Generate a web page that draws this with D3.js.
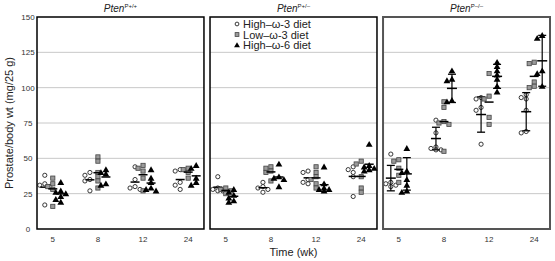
<!DOCTYPE html>
<html>
<head>
<meta charset="utf-8">
<script src="https://cdn.jsdelivr.net/npm/d3@7"></script>
<style>
  body { margin: 0; background: #fff; }
  text { font-family: "Liberation Sans", Arial, sans-serif; }
</style>
</head>
<body>
<div id="chart"></div>
<script>
const weeks = ["5", "8", "12", "24"];
const diets = ["High\u2013\u03c9-3 diet", "Low\u2013\u03c9-3 diet", "High\u2013\u03c9-6 diet"];
const genotypes = ["P+/+", "P+/\u2013", "P\u2013/\u2013"];
const yTicks = [0, 25, 50, 75, 100, 125, 150];

// Pten P+/+ , values per week
const wtHighW3 = [[38, 32, 31, 30, 17], [40, 38, 35, 34, 27], [44, 35, 30, 29, 28], [42, 41, 33, 31, 28]];
const wtLowW3 = [[36, 32, 30, 28, 16], [51, 48, 40, 37, 34, 29], [45, 43, 41, 36, 27], [43, 42, 40, 36]];
const wtHighW6 = [[33, 27, 26, 25, 23, 21, 19], [42, 40, 39, 32, 31], [42, 36, 33, 29, 28, 27], [45, 43, 36, 33, 31]];

// Pten P+/-
const hetHighW3 = [[37, 29, 28, 27, 27], [33, 30, 29, 28, 26], [41, 40, 35, 33, 32], [44, 42, 40, 37, 23]];
const hetLowW3 = [[29, 28, 27, 25], [44, 43, 41, 40, 34], [44, 40, 37, 35, 32, 29], [48, 46, 37, 29, 26]];
const hetHighW6 = [[28, 26, 24, 22, 20, 19], [46, 37, 36, 35, 30], [44, 32, 29, 28, 28, 27], [60, 45, 44, 43, 42, 41]];

// Pten P-/-
const nullHighW3 = [[53, 33, 32, 31, 30], [77, 68, 58, 57, 56, 56], [93, 92, 86, 84, 60], [95, 93, 92, 84, 69, 68]];
const nullLowW3 = [[49, 48, 43, 38, 33], [90, 86, 76, 75, 74, 55], [110, 94, 92, 79, 74], [118, 117, 104, 101, 100]];
const nullHighW6 = [[57, 41, 40, 35, 31, 27, 26], [112, 106, 105, 91, 90], [118, 115, 112, 109, 106, 101, 97], [137, 135, 112, 110, 101]];
// mean and SD
const nullMeanW3 = [36, 64, 81, 83];
const nullSdW3 = [9, 8, 12.5, 13.5];
const nullMeanW6 = [39, 99.5, 108, 119];
const nullSdW6 = [11.5, 10, 8.5, 18];

const panels = [
  { title: genotypes[0], groups: [wtHighW3, wtLowW3, wtHighW6], errors: null },
  { title: genotypes[1], groups: [hetHighW3, hetLowW3, hetHighW6], errors: null },
  { title: genotypes[2], groups: [nullHighW3, nullLowW3, nullHighW6],
    errors: [{ mean: nullMeanW3, sd: nullSdW3 }, null, { mean: nullMeanW6, sd: nullSdW6 }] }
];

const width = 555, height = 261;
const svg = d3.select("#chart").append("svg")
  .attr("width", width)
  .attr("height", height);

const panelScale = d3.scaleBand().domain(d3.range(3)).range([37, 550]).paddingInner(0.035);
const yScale = d3.scaleLinear().domain([0, 150]).range([229, 17]);
const bw = panelScale.bandwidth();
const xScale = d3.scalePoint().domain(weeks).range([0, bw]).padding(0.35);
const groupOffset = d3.scalePoint().domain(d3.range(3)).range([-8, 8]);

const triangle = d3.symbol().type(d3.symbolTriangle).size(20);

function drawMarker(g, k, x, y, legend) {
  if (k === 0) {
    g.append("circle").attr("cx", x).attr("cy", y).attr("r", legend ? 1.9 : 2.1)
      .attr("fill", "#fff").attr("stroke", "#222").attr("stroke-width", 0.9);
  } else if (k === 1) {
    const s = legend ? 3.8 : 4.2;
    g.append("rect").attr("x", x - s / 2).attr("y", y - s / 2).attr("width", s).attr("height", s)
      .attr("fill", "#9a9a9a").attr("stroke", "#444").attr("stroke-width", 0.8);
  } else {
    g.append("path").attr("d", triangle.size(legend ? 15 : 20)()).attr("transform", `translate(${x},${y + 0.6})`)
      .attr("fill", "#000");
  }
}

// simple dodge so overlapping points spread sideways
function dodge(values) {
  const placed = [];
  values.slice().sort((a, b) => b - a).forEach(v => {
    const py = yScale(v);
    const tries = [0, -2.6, 2.6, -5, 5];
    let dx = 0;
    for (const t of tries) {
      if (!placed.some(p => Math.abs(p.y - py) < 3.8 && Math.abs(p.dx - t) < 3.8)) { dx = t; break; }
    }
    placed.push({ y: py, dx: dx, v: v });
  });
  return placed;
}

panels.forEach((panel, pi) => {
  const x0 = panelScale(pi);
  const g = svg.append("g").attr("transform", `translate(${x0},0)`);

  // gridlines
  g.selectAll(".grid").data(yTicks.filter(t => t > 0 && t < 150)).enter().append("line")
    .attr("x1", 0).attr("x2", bw)
    .attr("y1", d => yScale(d)).attr("y2", d => yScale(d))
    .attr("stroke", "#c8c8c8").attr("stroke-width", 1);

  panel.groups.forEach((series, k) => {
    series.forEach((vals, wi) => {
      const cx = xScale(weeks[wi]) + groupOffset(k);
      dodge(vals).forEach(p => drawMarker(g, k, cx + p.dx, p.y, false));

      const err = panel.errors ? panel.errors[k] : null;
      if (err) {
        const m = err.mean[wi], sd = err.sd[wi];
        g.append("line").attr("x1", cx).attr("x2", cx)
          .attr("y1", yScale(m + sd)).attr("y2", yScale(m - sd))
          .attr("stroke", "#000").attr("stroke-width", 1.2);
        [m + sd, m - sd].forEach(v => g.append("line")
          .attr("x1", cx - 4).attr("x2", cx + 4)
          .attr("y1", yScale(v)).attr("y2", yScale(v))
          .attr("stroke", "#000").attr("stroke-width", 1.3));
        g.append("line").attr("x1", cx - 5).attr("x2", cx + 5)
          .attr("y1", yScale(m)).attr("y2", yScale(m))
          .attr("stroke", "#000").attr("stroke-width", 1.5);
      } else {
        const m = d3.mean(vals);
        g.append("line").attr("x1", cx - 4.5).attr("x2", cx + 4.5)
          .attr("y1", yScale(m)).attr("y2", yScale(m))
          .attr("stroke", "#000").attr("stroke-width", 1.5);
      }
    });
  });

  // frame
  g.append("rect").attr("x", 0).attr("y", yScale(150)).attr("width", bw).attr("height", yScale(0) - yScale(150))
    .attr("fill", "none")
    .attr("stroke", pi === 2 ? "#555" : "#000")
    .attr("stroke-width", pi === 2 ? 2 : 1.5);

  // x tick labels
  g.selectAll(".xt").data(weeks).enter().append("text")
    .attr("x", d => xScale(d)).attr("y", 242)
    .attr("text-anchor", "middle").attr("font-size", 8).attr("fill", "#333")
    .text(d => d);

  // title
  const t = g.append("text").attr("x", bw / 2).attr("y", 12)
    .attr("text-anchor", "middle").attr("font-size", 10).attr("font-style", "italic").attr("fill", "#222");
  t.append("tspan").text("Pten");
  t.append("tspan").attr("font-size", 6).attr("dy", -4).attr("font-style", "normal").text(panel.title);
});

// y axis tick labels
svg.selectAll(".yt").data(yTicks).enter().append("text")
  .attr("x", 28).attr("y", d => yScale(d) + 3)
  .attr("text-anchor", "middle").attr("font-size", 8).attr("fill", "#333")
  .text(d => d);

// axis labels
svg.append("text")
  .attr("transform", `translate(13, ${(yScale(0) + yScale(150)) / 2}) rotate(-90)`)
  .attr("text-anchor", "middle").attr("font-size", 11).attr("fill", "#222")
  .text("Prostate/body wt (mg/25 g)");

svg.append("text")
  .attr("x", panelScale(1) + bw / 2).attr("y", 256)
  .attr("text-anchor", "middle").attr("font-size", 11).attr("fill", "#222")
  .text("Time (wk)");

// legend
const legend = svg.append("g").attr("transform", `translate(${panelScale(1) + 27}, 24)`);
diets.forEach((d, i) => {
  drawMarker(legend, i, 0, i * 10.5, true);
  legend.append("text").attr("x", 6).attr("y", i * 10.5 + 4)
    .attr("font-size", 11).attr("fill", "#222").text(d);
});
</script>
</body>
</html>
